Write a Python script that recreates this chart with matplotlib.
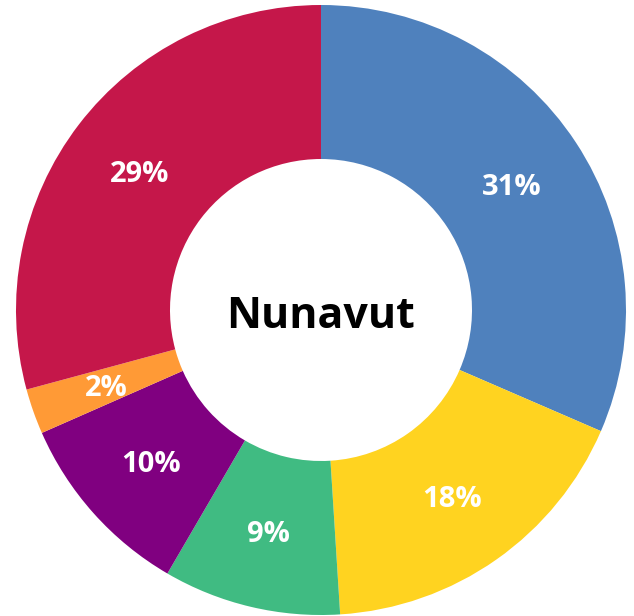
import matplotlib.pyplot as plt
import numpy as np

# slices, clockwise from 12 o'clock
categories = ['A', 'B', 'C', 'D', 'E', 'F']
shares = [31.5, 17.5, 9.4, 10.0, 2.4, 29.2]
labels = ['31%', '18%', '9%', '10%', '2%', '29%']
colors = ['#4F81BD', '#FFD320', '#40BB82', '#800080', '#FF9A36', '#C5174A']
title = 'Nunavut'

plt.rcParams['font.family'] = ['Open Sans', 'DejaVu Sans']

fig = plt.figure(figsize=(6.34, 6.16), dpi=100)
ax = fig.add_axes([0, 0, 1, 1])

wedges, _ = ax.pie(shares, colors=colors, startangle=90, counterclock=False,
                   radius=305, center=(321, 306),
                   wedgeprops=dict(width=154, edgecolor='none'))

# percentage labels in the middle of the ring
for w, lab in zip(wedges, labels):
    ang = np.deg2rad((w.theta1 + w.theta2) / 2)
    r = 305 - 154 / 2
    ax.text(321 + r * np.cos(ang), 303 + r * np.sin(ang), lab,
            ha='center', va='center', color='white', fontsize=21, fontweight='bold')

ax.text(321, 300, title, ha='center', va='center', fontsize=31, fontweight='bold', color='black')

ax.set_xlim(0, 634)
ax.set_ylim(0, 616)
ax.set_aspect('equal')
ax.axis('off')

fig.savefig('out.png', dpi=100)
